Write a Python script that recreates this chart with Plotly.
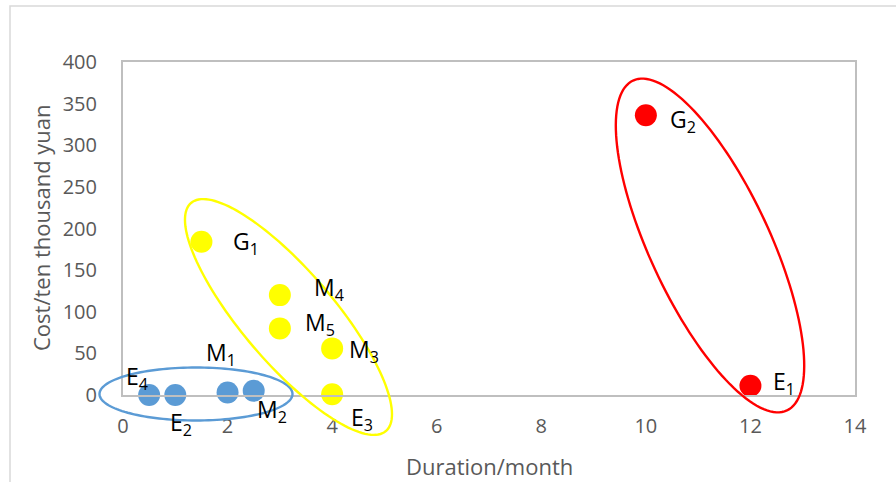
import numpy as np
import plotly.graph_objects as go

# ---- data ----
blue_x = [0.5, 1, 2, 2.5]
blue_y = [0, 0, 3, 5]
blue_labels = ["E<sub>4</sub>", "E<sub>2</sub>", "M<sub>1</sub>", "M<sub>2</sub>"]

yellow_x = [1.5, 3, 3, 4, 4]
yellow_y = [184, 120, 80, 56, 1]
yellow_labels = ["G<sub>1</sub>", "M<sub>4</sub>", "M<sub>5</sub>", "M<sub>3</sub>", "E<sub>3</sub>"]

red_x = [10, 12]
red_y = [336, 11]
red_labels = ["G<sub>2</sub>", "E<sub>1</sub>"]

x_ticks = [0, 2, 4, 6, 8, 10, 12, 14]
y_ticks = [0, 50, 100, 150, 200, 250, 300, 350, 400]

# label offsets in pixels (dx right, dy down) relative to the point
blue_off = [(-25, -17), (-7, 29), (-24, -38), (1, 21)]
yellow_off = [(30, 2), (32, -6), (23, -4), (15, 3), (17, 25)]
red_off = [(22, 6), (21, -2)]

BLUE = "#5B9BD5"
YELLOW = "#FFFF00"
RED = "#FF0000"

# layout geometry
W, H = 896, 482
ML, MR, MT, MB = 123, 41, 62, 87
PW = W - ML - MR
PH = H - MT - MB
XR = (0, 14)
YR = (0, 400)

fig = go.Figure()

def add_group(xs, ys, color):
    fig.add_trace(go.Scatter(
        x=xs, y=ys, mode="markers",
        marker=dict(size=22, color=color, line=dict(width=0)),
        showlegend=False, hoverinfo="skip", cliponaxis=False))

add_group(blue_x, blue_y, BLUE)
add_group(yellow_x, yellow_y, YELLOW)
add_group(red_x, red_y, RED)

# enclosing ellipses: (center data x, center data y, semi-major px, semi-minor px, angle deg clockwise on screen)
ellipses = [
    (1.396, 1.2, 96.5, 26.5, 0.0, BLUE),
    (3.165, 93.7, 150, 46, 49.5, YELLOW),
    (11.227, 179.6, 182, 60, 65.0, RED),
]
t = np.linspace(0, 2 * np.pi, 145)
for cx, cy, a, b, ang, col in ellipses:
    th = np.deg2rad(ang)
    ex = a * np.cos(t) * np.cos(th) - b * np.sin(t) * np.sin(th)
    ey = a * np.cos(t) * np.sin(th) + b * np.sin(t) * np.cos(th)  # screen px, down positive
    pxs = (cx - XR[0]) / (XR[1] - XR[0]) + ex / PW
    pys = (cy - YR[0]) / (YR[1] - YR[0]) - ey / PH
    path = "M " + " L ".join(f"{u:.5f},{v:.5f}" for u, v in zip(pxs, pys)) + " Z"
    fig.add_shape(type="path", path=path, xref="paper", yref="paper",
                  line=dict(color=col, width=2.4), fillcolor="rgba(0,0,0,0)", layer="above")

# point labels
for xs, ys, labs, offs in [(blue_x, blue_y, blue_labels, blue_off),
                            (yellow_x, yellow_y, yellow_labels, yellow_off),
                            (red_x, red_y, red_labels, red_off)]:
    for x, y, lab, (ox, oy) in zip(xs, ys, labs, offs):
        fig.add_annotation(x=x, y=y, xref="x", yref="y", text=lab, showarrow=False,
                           xanchor="left", yanchor="middle", xshift=ox, yshift=1 - oy,
                           font=dict(family="Open Sans", size=23, color="#000000"))

# outer chart border
fig.add_shape(type="rect", xref="paper", yref="paper",
              x0=(10 - ML) / PW, x1=(W + 20 - ML) / PW,
              y0=-(H + 20 - MT - PH) / PH, y1=(MT + PH - 6) / PH,
              line=dict(color="#D9D9D9", width=1.5), fillcolor="rgba(0,0,0,0)", layer="below")

# axis titles
fig.add_annotation(x=(41 - ML) / PW, y=(MT + PH - 228) / PH, xref="paper", yref="paper",
                   xanchor="center", yanchor="middle",
                   text="Cost/ten thousand yuan", textangle=-90, showarrow=False,
                   font=dict(family="Open Sans", size=22, color="#595959"))
fig.add_annotation(x=(490 - ML) / PW, y=(MT + PH - 466) / PH, xref="paper", yref="paper",
                   xanchor="center", yanchor="middle",
                   text="Duration/month", showarrow=False,
                   font=dict(family="Open Sans", size=22, color="#595959"))

axis_common = dict(showgrid=False, zeroline=False, showline=True, linecolor="#BFBFBF",
                   linewidth=2, mirror=True, ticks="",
                   tickfont=dict(family="Open Sans", size=20, color="#595959"))
fig.update_xaxes(range=list(XR), tickvals=x_ticks, ticktext=[str(v) for v in x_ticks],
                 ticklabelstandoff=12, **axis_common)
fig.update_yaxes(range=list(YR), tickvals=y_ticks, ticktext=[str(v) for v in y_ticks],
                 ticklabelstandoff=20, **axis_common)

fig.update_layout(width=W, height=H, margin=dict(l=ML, r=MR, t=MT, b=MB),
                  paper_bgcolor="white", plot_bgcolor="white", showlegend=False)

fig.write_html("out.html", config={"displayModeBar": False},
               post_script="document.body.style.margin='0px';")
